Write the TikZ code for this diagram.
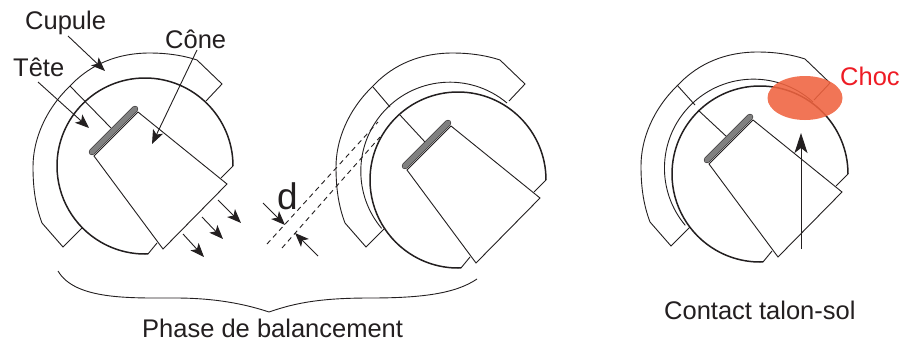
\documentclass[tikz,border=0pt]{standalone}
\usepackage{fontspec}
\setmainfont{Liberation Sans}
\usetikzlibrary{arrows.meta,shapes.geometric}
\definecolor{inkc}{HTML}{231F20}
\definecolor{barc}{HTML}{808080}
\definecolor{chocc}{HTML}{EE1C25}
\definecolor{blobc}{HTML}{F0633F}
\tikzset{
  lbl/.style={anchor=base west,inner sep=0pt,text=inkc,font=\fontsize{25.5}{30}\selectfont},
  thin line/.style={draw=inkc,line width=0.9pt,line join=miter},
  head line/.style={draw=inkc,line width=1.5pt},
  bar/.style={draw=barc,line width=5.4pt,line cap=round},
  barb/.style={draw=inkc,line width=6.4pt,line cap=round},
  point/.style={draw=inkc,line width=0.9pt,-{Stealth[length=14pt,width=11pt,inset=3.5pt]}},
  dash line/.style={draw=inkc,line width=0.9pt,dash pattern=on 5pt off 4pt},
}
% cupola outer outline, shifted
\newcommand{\cupolaouter}{%
  \draw[thin line] (206,101) -- (222,84) -- (197,60)
    .. controls (182,55) and (165,53) .. (150,53)
    .. controls (110,53) and (85,70) .. (70,86)
    .. controls (45,110) and (33,140) .. (33,167)
    .. controls (33,190) and (36,207) .. (42,223)
    -- (63,247) -- (82,228);
}
% head and cone
\newcommand{\headcone}{%
  \draw[head line] (233,166) arc[start angle=0,end angle=-272,radius=88]; % head, centre (145,166)
  \draw[thin line] (233,166) -- (221,178);
  \draw[thin line] (148,254) -- (157,243);
  \draw[thin line,fill=white] (138,112) -- (227,184) -- (163,249) -- (94,156) -- cycle;
  \draw[barb] (135,109) -- (92,152);
  \draw[bar] (135,109) -- (92,152);
}
\begin{document}
\begin{tikzpicture}[x=1pt,y=-1pt]
\useasboundingbox (0,0) rectangle (900,340);
\fill[white] (0,0) rectangle (900,340);

% ---------- left figure
\begin{scope}
  \cupolaouter
  \draw[thin line] (70,86) -- (111,128);
  \headcone
\end{scope}
\coordinate (cupfrom) at (68,36);   \coordinate (cupto) at (105,71);
\coordinate (tetfrom) at (38,82);   \coordinate (tetto) at (89,128);
\coordinate (confrom) at (197,50);  \coordinate (conto) at (152,144);
\draw[point] (cupfrom) -- (cupto);
\draw[point] (tetfrom) -- (tetto);
\draw[point] (confrom) -- (conto);
\coordinate (fa1) at (218,200); \coordinate (fb1) at (241,223);
\coordinate (fa2) at (202,217); \coordinate (fb2) at (223,239);
\coordinate (fa3) at (183,234); \coordinate (fb3) at (204,257);
\draw[point] (fa1) -- (fb1);
\draw[point] (fa2) -- (fb2);
\draw[point] (fa3) -- (fb3);
\node[lbl] (cupule) at (25,30) {Cupule};
\node[lbl] (tete) at (13,76) {Tête};
\node[lbl] (cone) at (165,48) {Cône};

% ---------- middle figure
\begin{scope}[shift={(303,0)}]
  \cupolaouter
  \draw[thin line] (70,87) -- (87,107);
  \draw[thin line] (204,103) arc[start angle=-50,end angle=-220,radius=89];
\end{scope}
\begin{scope}[shift={(313,14)}]
  \draw[thin line] (87,101) -- (112,128);
  \headcone
\end{scope}
\coordinate (dua) at (267,244); \coordinate (dub) at (378,122);
\coordinate (dla) at (282,248); \coordinate (dlb) at (380,137);
\draw[dash line] (dua) -- (dub);
\draw[dash line] (dla) -- (dlb);
\coordinate (da) at (263,203); \coordinate (db) at (285,225);
\coordinate (dc) at (318,256); \coordinate (dd) at (295,233);
\draw[point] (da) -- (db);
\draw[point] (dc) -- (dd);
\node[lbl,font=\fontsize{37}{40}\selectfont] (dlabel) at (277,209) {d};

% ---------- right figure
\begin{scope}[shift={(608,-1)}]
  \cupolaouter
  \draw[thin line] (69,86) -- (87,106);
  \draw[thin line] (205,103) arc[start angle=-48,end angle=-220,radius=89];
\end{scope}
\begin{scope}[shift={(615,8)}]
  \draw[thin line] (83,102) -- (112,129);
  \headcone
\end{scope}
\coordinate (ca) at (801,249); \coordinate (cb) at (801,133);
\draw[draw=inkc,line width=0.9pt,-{Stealth[length=20pt,width=13pt,inset=5pt]}] (ca) -- (cb);
\node[fill=blobc,fill opacity=0.88,draw=none,shape=ellipse,minimum width=75pt,minimum height=44pt,inner sep=0pt] (blob) at (805,98) {};
\node[lbl,text=chocc] (choc) at (840,85) {Choc};

% ---------- captions
\coordinate (bl) at (58,271); \coordinate (bt) at (269,312); \coordinate (br) at (477,279);
\draw[thin line] (bl) .. controls (75,300) and (130,298) .. (175,298)
  .. controls (215,298) and (245,304) .. (bt)
  .. controls (295,303) and (320,298) .. (370,298)
  .. controls (420,298) and (455,294) .. (br);
\node[lbl] (phase) at (142,337.5) {Phase de balancement};
\node[lbl] (contact) at (664,319) {Contact talon-sol};
\end{tikzpicture}
\end{document}
